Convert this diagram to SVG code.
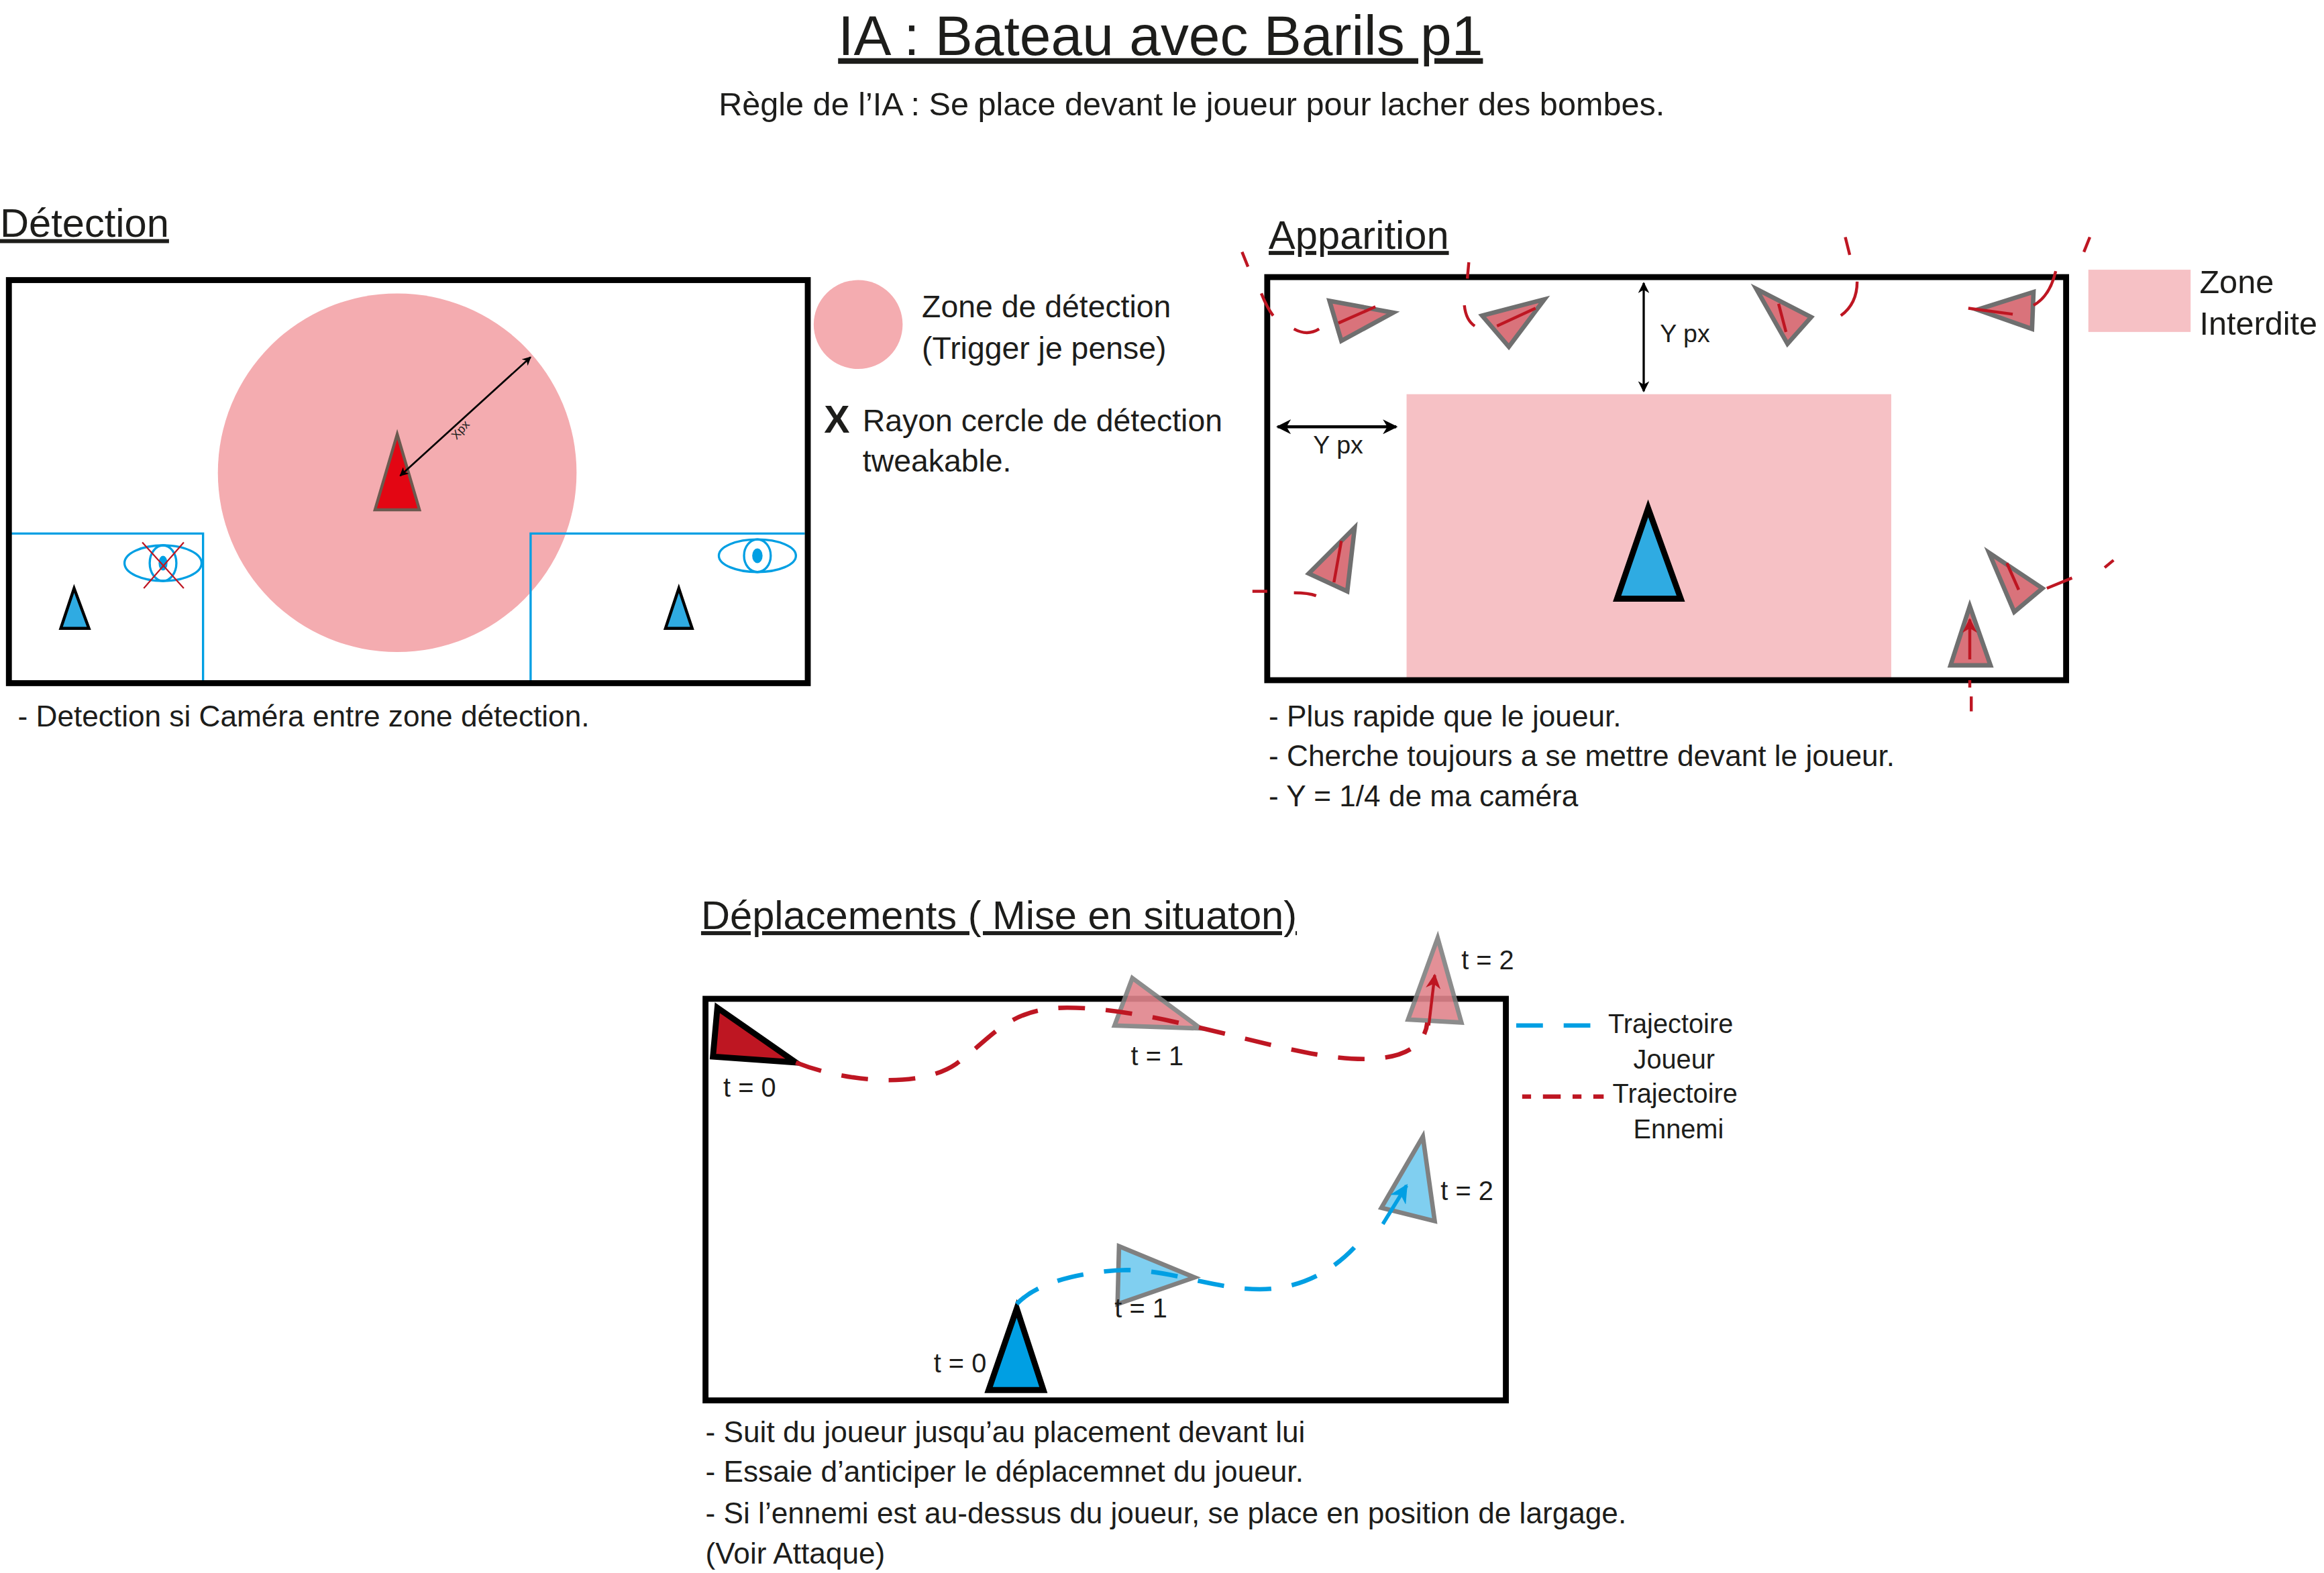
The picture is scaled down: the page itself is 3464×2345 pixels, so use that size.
<svg xmlns="http://www.w3.org/2000/svg" width="3464" height="2345" viewBox="0 0 3464 2345">
<style>
text{font-family:"Liberation Sans","Open Sans",sans-serif;fill:#1d1d1b}
.t{font-size:20px}
.h{font-size:27px;text-decoration:underline}
.box{fill:none;stroke:#000;stroke-width:4}
.en{fill:#d9737b;stroke:#6f6f6f;stroke-width:3}
.rd{fill:none;stroke:#be1622;stroke-width:2}
.rdd{fill:none;stroke:#be1622;stroke-width:3;stroke-dasharray:18 14}
.bld{fill:none;stroke:#009fe3;stroke-width:3;stroke-dasharray:18 14}
.bl{fill:none;stroke:#009fe3;stroke-width:1.5}
</style>
<defs>
<marker id="ak" viewBox="0 0 10 10" refX="9" refY="5" markerWidth="5" markerHeight="5" orient="auto-start-reverse"><path d="M0,0L10,5L0,10L3,5z" fill="#000"/></marker>
<marker id="ar" viewBox="0 0 10 10" refX="9" refY="5" markerWidth="5" markerHeight="5" orient="auto"><path d="M0,0L10,5L0,10L3,5z" fill="#be1622"/></marker>
<marker id="ab" viewBox="0 0 10 10" refX="9" refY="5" markerWidth="5" markerHeight="5" orient="auto"><path d="M0,0L10,5L0,10L3,5z" fill="#009fe3"/></marker>
</defs>
<rect width="3464" height="2345" fill="#fff"/>
<g transform="scale(2.2092)">
<g id="titles">
<text x="783" y="37" font-size="38" text-anchor="middle" text-decoration="underline">IA : Bateau avec Barils p1</text>
<text x="804" y="78" font-size="22" text-anchor="middle">Règle de l’IA : Se place devant le joueur pour lacher des bombes.</text>
</g>
<g id="detection">
<text x="0" y="160" class="h">Détection</text>
<circle cx="268" cy="319" r="121" fill="#f4acb0"/>
<path d="M7,360H137V461M358,461V360H543" stroke="#009fe3" stroke-width="1.5" fill="none"/>
<rect x="6" y="189" width="539" height="272" class="box"/>
<polygon points="268,293 253,344 283,344" fill="#e30613" stroke="#6b5a4f" stroke-width="2"/>
<line x1="270" y1="321" x2="358" y2="241" stroke="#000" stroke-width="1.2" marker-start="url(#ak)" marker-end="url(#ak)"/>
<text x="0" y="0" font-size="8" transform="translate(308,297) rotate(-48)">Xpx</text>
<ellipse cx="110" cy="380" rx="26" ry="12" class="bl"/><ellipse cx="110" cy="380" rx="9" ry="12" class="bl"/><ellipse cx="110" cy="380" rx="3" ry="5" fill="#009fe3"/>
<path d="M96,366L124,397M124,366L97,397" stroke="#be1622" stroke-width="1"/>
<ellipse cx="511" cy="375" rx="26" ry="11" class="bl"/><ellipse cx="511" cy="375" rx="9" ry="11" class="bl"/><ellipse cx="511" cy="375" rx="3.5" ry="5" fill="#009fe3"/>
<polygon points="50,397 41,424 60,424" fill="#2fabe2" stroke="#000" stroke-width="2"/>
<polygon points="458,397 449,424 467,424" fill="#2fabe2" stroke="#000" stroke-width="2"/>
<circle cx="579" cy="219" r="30" fill="#f4acb0"/>
<text x="622" y="214" font-size="21">Zone de détection</text>
<text x="622" y="242" font-size="21">(Trigger je pense)</text>
<text x="556" y="292" font-size="26" font-weight="bold">X</text>
<text x="582" y="291" font-size="21">Rayon cercle de détection</text>
<text x="582" y="318" font-size="21">tweakable.</text>
<text x="12" y="490" class="t">- Detection si Caméra entre zone détection.</text>
</g>
<g id="apparition">
<text x="856" y="168" class="h">Apparition</text>
<rect x="949" y="266" width="327" height="193" fill="#f6c1c5"/>
<rect x="855" y="187" width="539" height="272" class="box"/>
<polygon points="1112,343 1091,404 1134,404" fill="#2fabe2" stroke="#000" stroke-width="4"/>
<line x1="1109" y1="191" x2="1109" y2="264" stroke="#000" stroke-width="1.5" marker-start="url(#ak)" marker-end="url(#ak)"/>
<text x="1120" y="231" font-size="17">Y px</text>
<line x1="862" y1="288" x2="942" y2="288" stroke="#000" stroke-width="2" marker-start="url(#ak)" marker-end="url(#ak)"/>
<text x="886" y="306" font-size="17">Y px</text>
<rect x="1409" y="182" width="69" height="42" fill="#f6c1c5"/>
<text x="1484" y="198" font-size="22">Zone</text>
<text x="1484" y="226" font-size="22">Interdite</text>
<polygon points="897,203 940,211 905,230" class="en"/>
<polygon points="1000,213 1042,202 1018,234" class="en"/>
<polygon points="1185,195 1222,214 1206,232" class="en"/>
<polygon points="1372,197 1371,222 1334,209" class="en"/>
<polygon points="914,356 909,399 883,387" class="en"/>
<polygon points="1342,373 1378,397 1359,413" class="en"/>
<polygon points="1329,409 1343,449 1316,449" class="en"/>
<path d="M903,218L928,207M1010,220L1036,208M1205,224L1200,205M1358,212L1328,208M900,393L905,365M1362,398L1354,380M1329,445L1329,418" class="rd" marker-end="url(#ar)"/>
<path d="M838,170L842,180M851,198Q855,208 859,213M873,222Q882,227 890,222M991,177L990,188M988,206Q989,216 995,220M1245,160L1248,172M1253,190Q1253,205 1242,213M1410,160L1406,170M1387,183Q1383,200 1372,206M845,399L855,399M873,400Q883,400 888,402M1381,397L1398,390M1420,383L1426,378M1329,459V464M1330,470V480" class="rd"/>
<text x="856" y="490" class="t">- Plus rapide que le joueur.</text>
<text x="856" y="517" class="t">- Cherche toujours a se mettre devant le joueur.</text>
<text x="856" y="544" class="t">- Y = 1/4 de ma caméra</text>
</g>
<g id="deplacements">
<text x="473" y="627" class="h">Déplacements ( Mise en situaton)</text>
<rect x="476" y="674" width="540" height="271" class="box"/>
<polygon points="764,660 810,694 752,692" fill="#e0848c" stroke="#808080" stroke-width="3" opacity="0.9"/>
<polygon points="970,633 986,690 950,688" fill="#e0848c" stroke="#808080" stroke-width="3" opacity="0.9"/>
<polygon points="755,841 806,862 754,880" fill="#80cff0" stroke="#808080" stroke-width="3"/>
<polygon points="960,767 968,824 932,815" fill="#80cff0" stroke="#808080" stroke-width="3"/>
<polygon points="484,680 537,717 481,713" fill="#be1622" stroke="#000" stroke-width="4"/>
<polygon points="686,883 667,938 704,938" fill="#009fe3" stroke="#000" stroke-width="4"/>
<text x="488" y="740" font-size="18">t = 0</text>
<text x="763" y="719" font-size="18">t = 1</text>
<text x="986" y="654" font-size="18">t = 2</text>
<text x="630" y="926" font-size="18">t = 0</text>
<text x="752" y="889" font-size="18">t = 1</text>
<text x="972" y="810" font-size="18">t = 2</text>
<text x="1085" y="697" font-size="18">Trajectoire</text>
<text x="1102" y="721" font-size="18">Joueur</text>
<text x="1088" y="744" font-size="18">Trajectoire</text>
<text x="1102" y="768" font-size="18">Ennemi</text>
<path d="M1023,692H1080" class="bld"/>
<path d="M1027,740H1082" stroke="#be1622" stroke-width="3" stroke-dasharray="6 8 12 8" fill="none"/>
</g>
<g id="connectors">
<path d="M537,717C570,730 620,735 645,718C670,700 680,680 720,680C770,680 830,700 880,710C920,718 960,718 963,690" class="rdd"/>
<path d="M964,692L968,658" class="rd" stroke-width="2.5" marker-end="url(#ar)"/>
<path d="M686,880C700,865 730,858 760,857C790,857 820,870 850,870C880,870 905,855 922,832" class="bld"/>
<path d="M933,826L949,800" stroke="#009fe3" stroke-width="2.5" marker-end="url(#ab)"/>
</g>
<g id="notes">
<text x="476" y="973" class="t">- Suit du joueur jusqu’au placement devant lui</text>
<text x="476" y="1000" class="t">- Essaie d’anticiper le déplacemnet du joueur.</text>
<text x="476" y="1028" class="t">- Si l’ennemi est au-dessus du joueur, se place en position de largage.</text>
<text x="476" y="1055" class="t">(Voir Attaque)</text>
</g>
</g>
</svg>
